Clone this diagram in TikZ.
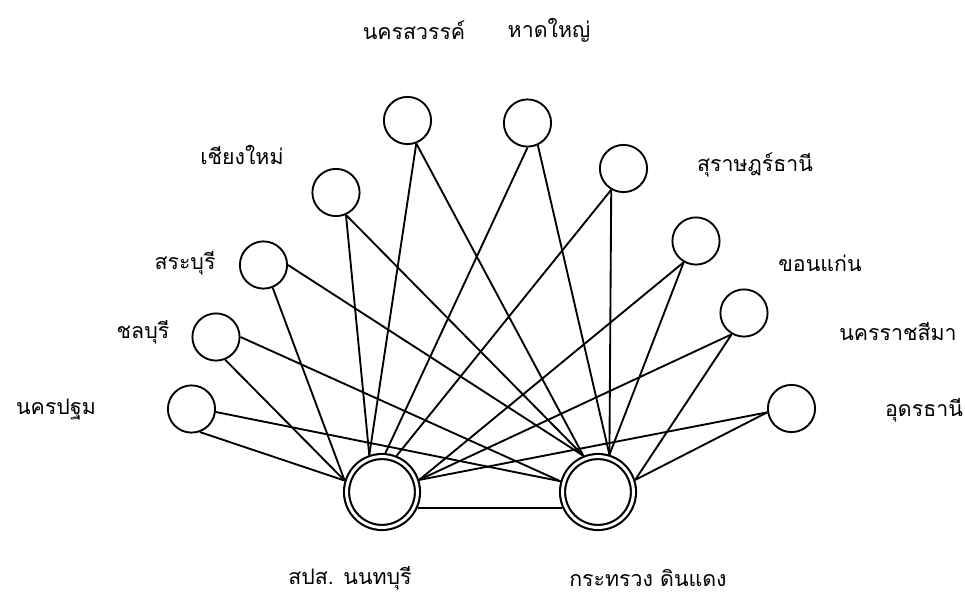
\documentclass[tikz,border=0pt]{standalone}
\usepackage{fontspec}
\newfontfamily\thaifont[Script=Thai]{Loma}

\tikzstyle{site} = [circle, draw=black, line width=1.4pt, minimum size=35.4pt, inner sep=0pt]
\tikzstyle{hub} = [circle, draw=black, line width=1.6pt, double, double distance=2.2pt, minimum size=53.2pt, inner sep=0pt, outer sep=2.7pt]
\tikzstyle{link} = [line width=1.4pt]
\tikzstyle{place} = [inner sep=0pt, font=\thaifont\fontsize{16}{18}\selectfont]

\begin{document}
\begin{tikzpicture}[x=0.75pt, y=-0.75pt]
\useasboundingbox (0,0) rectangle (965,597);

% offices
\node (nonthaburi) [hub] at (382,492) {};
\node (dindaeng) [hub] at (598,492) {};

% provinces
\node (pathom) [site] at (191.5,409) {};
\node (chonburi) [site] at (216,337) {};
\node (saraburi) [site] at (263.5,265) {};
\node (chiangmai) [site] at (336,192.5) {};
\node (sawan) [site] at (407.5,120.5) {};
\node (hatyai) [site] at (527.5,123) {};
\node (surat) [site] at (623.5,168.5) {};
\node (khonkaen) [site] at (696,241) {};
\node (korat) [site] at (744,313) {};
\node (udon) [site] at (791.5,408.5) {};

% names
\node (lnonthaburi) [place] at (350,578) {สปส. นนทบุรี};
\node (ldindaeng) [place] at (648,578) {กระทรวง ดินแดง};
\node (lpathom) [place] at (56,410) {นครปฐม};
\node (lchonburi) [place] at (143,332) {ชลบุรี};
\node (lsaraburi) [place] at (185,263) {สระบุรี};
\node (lchiangmai) [place] at (242,155) {เชียงใหม่};
\node (lsawan) [place] at (414,30) {นครสวรรค์};
\node (lhatyai) [place] at (549,30) {หาดใหญ่};
\node (lsurat) [place] at (755,165) {สุราษฎร์ธานี};
\node (lkhonkaen) [place] at (820,263) {ขอนแก่น};
\node (lkorat) [place] at (898,332) {นครราชสีมา};
\node (ludon) [place] at (924,410) {อุดรธานี};

% links to nonthaburi
\draw [link] (pathom.-70) -- (nonthaburi.163);
\draw [link] (chonburi.-68) -- (nonthaburi.163);
\draw [link] (saraburi.-68) -- (nonthaburi.163);
\draw [link] (chiangmai.-66) -- (nonthaburi.109);
\draw [link] (sawan.-69) -- (nonthaburi.109);
\draw [link] (hatyai.-90) -- (nonthaburi.85);
\draw [link] (surat.-120) -- (nonthaburi.68);
\draw [link] (khonkaen.-120) -- (nonthaburi.18);
\draw [link] (korat.-120) -- (nonthaburi.18);
\draw [link] (udon.189) -- (nonthaburi.18);

% links to dindaeng
\draw [link] (pathom.-7) -- (dindaeng.164);
\draw [link] (chonburi.0) -- (dindaeng.164);
\draw [link] (saraburi.0) -- (dindaeng.112);
\draw [link] (chiangmai.-66) -- (dindaeng.112);
\draw [link] (sawan.-69) -- (dindaeng.112);
\draw [link] (hatyai.-65) -- (dindaeng.73);
\draw [link] (surat.-120) -- (dindaeng.73);
\draw [link] (khonkaen.-120) -- (dindaeng.73);
\draw [link] (korat.-120) -- (dindaeng.18);
\draw [link] (udon.189) -- (dindaeng.18);

% office link
\draw [link] (nonthaburi.-24) -- (dindaeng.204);

\end{tikzpicture}
\end{document}
